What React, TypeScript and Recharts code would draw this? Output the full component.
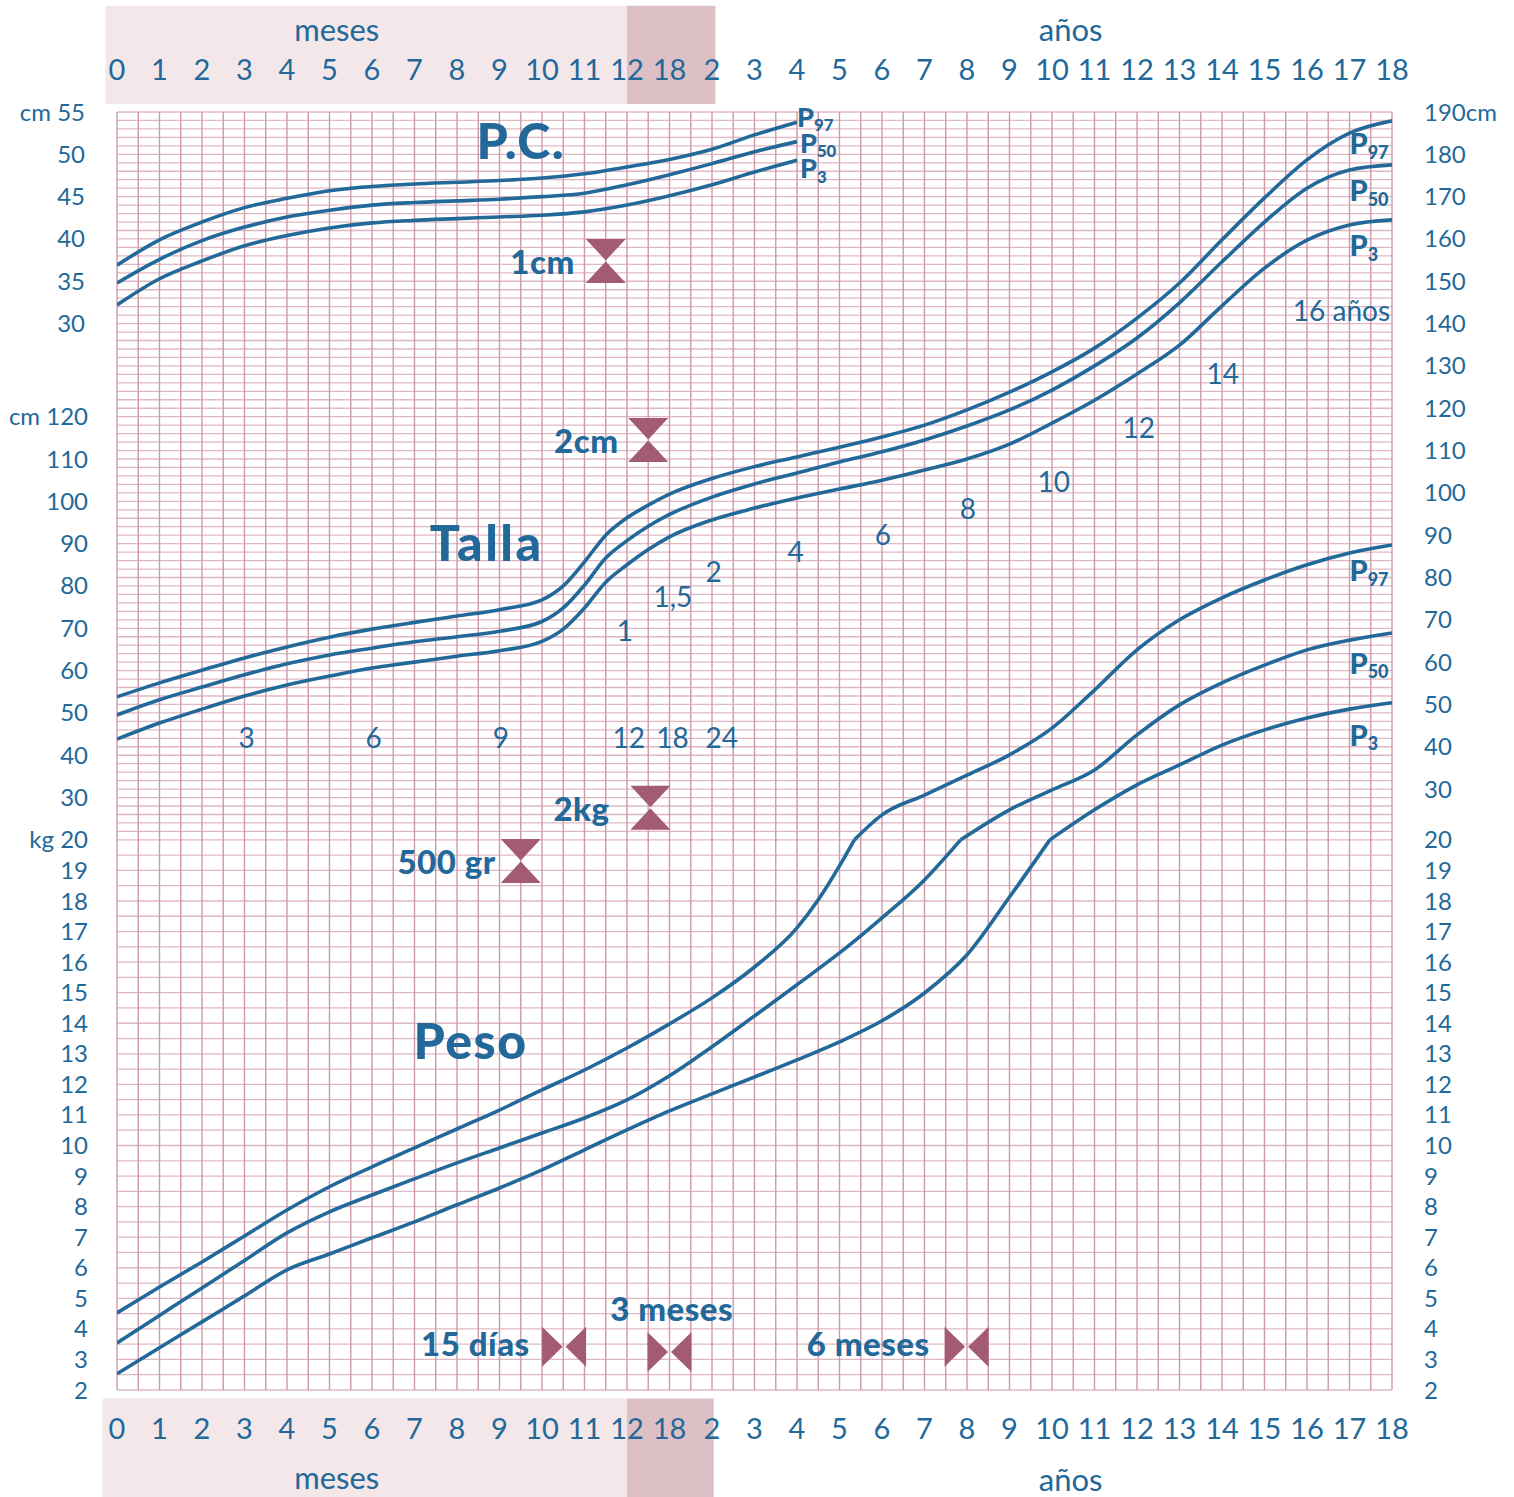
import React from "react";
import {
  LineChart,
  Line,
  XAxis,
  YAxis,
  ReferenceLine,
  ReferenceArea,
  ReferenceDot,
} from "recharts";

const ANCHO = 1514;
const ALTO = 1497;
const FILAS = 151; // alto de la rejilla en filas de 1 cm (P.C.)

const AZUL = "#22699a";
const ROSA_V = "#cf99a9";
const ROSA_H = "#e0b8c3";
const BANDA = "#f3e7ea";
const BANDA_OSCURA = "#ddc0c6";
const GRANATE = "#a35a74";
const FUENTE = "Lato, 'Open Sans', sans-serif";

// eje horizontal: 0-12 meses, 18 meses, después 2-18 años
const etiquetasEdad = [
  "0", "1", "2", "3", "4", "5", "6", "7", "8", "9", "10", "11", "12",
  "18", "2", "3", "4", "5", "6", "7", "8", "9", "10", "11", "12", "13",
  "14", "15", "16", "17", "18",
];
const posiciones = etiquetasEdad.map((_, i) => i);

const ticksPC = [30, 35, 40, 45, 50, 55];
const ticksTalla = [30, 40, 50, 60, 70, 80, 90, 100, 110, 120];
const ticksKg = [2, 3, 4, 5, 6, 7, 8, 9, 10, 11, 12, 13, 14, 15, 16, 17, 18, 19, 20];
const ticksDerecha = [30, 40, 50, 60, 70, 80, 90, 100, 110, 120, 130, 140, 150, 160, 170, 180, 190];

// perímetro cefálico (cm), posiciones 0..16
const pcP97 = [36.9, 39.9, 42.0, 43.7, 44.8, 45.7, 46.2, 46.5, 46.7, 46.9, 47.2, 47.7, 48.5, 49.4, 50.6, 52.3, 53.8];
const pcP50 = [34.8, 37.6, 39.8, 41.4, 42.6, 43.4, 44.0, 44.3, 44.5, 44.7, 45.0, 45.4, 46.4, 47.6, 48.9, 50.3, 51.5];
const pcP3 = [32.2, 35.3, 37.4, 39.2, 40.4, 41.3, 41.9, 42.2, 42.4, 42.6, 42.8, 43.2, 44.0, 45.1, 46.4, 47.9, 49.3];

type Par = [number, number];

// talla (cm)
const tallaP97: Par[] = [
  [0, 53.8], [1, 57.1], [2, 60.1], [3, 63.0], [4, 65.6], [5, 67.9], [6, 69.8], [7, 71.4],
  [8, 72.9], [9, 74.4], [10, 76.7], [10.5, 80.0], [11, 85.7], [11.5, 92.0], [12, 96.1],
  [12.5, 99.1], [13, 101.7], [14, 105.4], [15, 108.2], [16, 110.5], [17, 112.8], [18, 115.2],
  [19, 118.0], [20, 121.6], [21, 125.8], [22, 130.6], [23, 136.2], [24, 143.3], [25, 151.6],
  [26, 161.8], [27, 171.7], [28, 180.7], [29, 187.0], [30, 189.9],
];
const tallaP50: Par[] = [
  [0, 49.5], [1, 53.1], [2, 56.1], [3, 59.0], [4, 61.6], [5, 63.7], [6, 65.3], [7, 66.8],
  [8, 68.0], [9, 69.3], [10, 71.6], [10.5, 74.8], [11, 80.2], [11.5, 86.6], [12, 90.7],
  [12.5, 94.1], [13, 96.9], [14, 101.0], [15, 104.1], [16, 106.7], [17, 109.3], [18, 111.7],
  [19, 114.5], [20, 117.8], [21, 121.6], [22, 126.3], [23, 132.0], [24, 138.6], [25, 146.9],
  [26, 156.6], [27, 166.0], [28, 174.0], [29, 178.3], [30, 179.5],
];
const tallaP3: Par[] = [
  [0, 43.8], [1, 47.6], [2, 50.9], [3, 54.0], [4, 56.6], [5, 58.7], [6, 60.6], [7, 62.0],
  [8, 63.4], [9, 64.7], [10, 66.9], [10.5, 69.8], [11, 74.8], [11.5, 80.9], [12, 85.0],
  [12.5, 88.6], [13, 91.6], [14, 95.6], [15, 98.4], [16, 100.8], [17, 102.9], [18, 105.0],
  [19, 107.4], [20, 110.0], [21, 113.5], [22, 118.5], [23, 123.9], [24, 130.1], [25, 136.9],
  [26, 146.2], [27, 155.1], [28, 161.7], [29, 165.3], [30, 166.5],
];

// peso hasta 20 kg (escala kg)
const pesoP97: Par[] = [
  [0, 4.52], [1, 5.37], [2, 6.19], [3, 7.04], [4, 7.89], [5, 8.65], [6, 9.3], [7, 9.92],
  [8, 10.54], [9, 11.16], [10, 11.82], [11, 12.47], [12, 13.19], [13, 13.98], [14, 14.83],
  [15, 15.84], [16, 17.12], [16.5, 18.04], [17, 19.15], [17.35, 20],
];
const pesoP50: Par[] = [
  [0, 3.54], [1, 4.44], [2, 5.34], [3, 6.24], [4, 7.14], [5, 7.83], [6, 8.38], [7, 8.91],
  [8, 9.43], [9, 9.92], [10, 10.41], [11, 10.9], [12, 11.49], [13, 12.28], [14, 13.23],
  [15, 14.24], [16, 15.26], [17, 16.3], [18, 17.45], [19, 18.69], [19.85, 20],
];
const pesoP3: Par[] = [
  [0, 2.53], [1, 3.38], [2, 4.23], [3, 5.08], [4, 5.93], [5, 6.45], [6, 6.98], [7, 7.5],
  [8, 8.06], [9, 8.61], [10, 9.2], [11, 9.86], [12, 10.51], [13, 11.13], [14, 11.69],
  [15, 12.24], [16, 12.8], [17, 13.39], [18, 14.08], [19, 14.99], [20, 16.24], [21, 18.13],
  [21.95, 20],
];
// peso desde 20 kg (escala de la derecha, 10 kg cada 5 filas)
const pesoAltoP97: Par[] = [
  [17.35, 20], [18, 25.9], [19, 30.6], [20, 35.3], [21, 40.1], [22, 46.4], [23, 55.4],
  [24, 64.9], [25, 72.0], [26, 77.2], [27, 81.4], [28, 85.0], [29, 87.8], [30, 89.7],
];
const pesoAltoP50: Par[] = [
  [19.85, 20], [21, 27.1], [22, 31.8], [23, 36.5], [24, 44.8], [25, 51.9], [26, 57.1],
  [27, 61.3], [28, 64.9], [29, 67.2], [30, 68.9],
];
const pesoAltoP3: Par[] = [
  [21.95, 20], [23, 27.1], [24, 33.0], [25, 37.7], [26, 42.4], [27, 46.0], [28, 48.8],
  [29, 50.9], [30, 52.4],
];

const deLista = (valores: number[]) => valores.map((v, x) => ({ x, v }));
const dePares = (pares: Par[]) => pares.map(([x, v]) => ({ x, v }));

// rejilla
const verticales = Array.from({ length: 61 }, (_, i) => i / 2);
const filasCm = Array.from({ length: 87 }, (_, i) => i);
const filasKg = Array.from({ length: 36 }, (_, i) => 2 + i / 2);

type Nota = {
  texto: string;
  x: number;
  y: number; // en filas
  tam: number;
  peso?: number;
  ancla?: "start" | "middle" | "end";
  sub?: string;
  esp?: number;
};

const notas: Nota[] = [
  { texto: "P.C.", x: 9.5, y: 3.3, tam: 50, peso: 900, esp: 1.5 },
  { texto: "Talla", x: 8.7, y: 50.8, tam: 50, peso: 900, esp: 2.5 },
  { texto: "Peso", x: 8.32, y: 109.6, tam: 50, peso: 900, esp: 1.5 },
  { texto: "1cm", x: 10.77, y: 17.6, tam: 33, peso: 900, ancla: "end", esp: 0.5 },
  { texto: "2cm", x: 11.8, y: 38.75, tam: 33, peso: 900, ancla: "end", esp: 0.5 },
  { texto: "2kg", x: 11.59, y: 82.2, tam: 33, peso: 900, ancla: "end", esp: 0.5 },
  { texto: "500 gr", x: 8.91, y: 88.5, tam: 33, peso: 900, ancla: "end", esp: 0.5 },
  { texto: "15 días", x: 9.71, y: 145.4, tam: 33, peso: 900, ancla: "end", esp: 0.5 },
  { texto: "3 meses", x: 13.05, y: 141.3, tam: 33, peso: 900, esp: 0.5 },
  { texto: "6 meses", x: 19.12, y: 145.4, tam: 33, peso: 900, ancla: "end", esp: 0.5 },
  { texto: "P", sub: "97", x: 16.0, y: 0.5, tam: 27, peso: 900, ancla: "start" },
  { texto: "P", sub: "50", x: 16.07, y: 3.55, tam: 27, peso: 900, ancla: "start" },
  { texto: "P", sub: "3", x: 16.07, y: 6.6, tam: 27, peso: 900, ancla: "start" },
  { texto: "P", sub: "97", x: 29.0, y: 3.66, tam: 29, peso: 900, ancla: "start" },
  { texto: "P", sub: "50", x: 29.0, y: 9.2, tam: 29, peso: 900, ancla: "start" },
  { texto: "P", sub: "3", x: 29.0, y: 15.7, tam: 29, peso: 900, ancla: "start" },
  { texto: "P", sub: "97", x: 29.0, y: 54.1, tam: 29, peso: 900, ancla: "start" },
  { texto: "P", sub: "50", x: 29.0, y: 65.0, tam: 29, peso: 900, ancla: "start" },
  { texto: "P", sub: "3", x: 29.0, y: 73.5, tam: 29, peso: 900, ancla: "start" },
  { texto: "1", x: 11.95, y: 61.2, tam: 28 },
  { texto: "1,5", x: 13.08, y: 57.2, tam: 28 },
  { texto: "2", x: 14.04, y: 54.2, tam: 28 },
  { texto: "4", x: 15.97, y: 51.9, tam: 28 },
  { texto: "6", x: 18.02, y: 49.9, tam: 28 },
  { texto: "8", x: 20.02, y: 46.8, tam: 28 },
  { texto: "10", x: 22.04, y: 43.6, tam: 28 },
  { texto: "12", x: 24.04, y: 37.2, tam: 28 },
  { texto: "14", x: 26.02, y: 30.8, tam: 28 },
  { texto: "16 años", x: 28.81, y: 23.4, tam: 28 },
  { texto: "3", x: 3.05, y: 73.8, tam: 28 },
  { texto: "6", x: 6.04, y: 73.8, tam: 28 },
  { texto: "9", x: 9.03, y: 73.8, tam: 28 },
  { texto: "12", x: 12.04, y: 73.8, tam: 28 },
  { texto: "18", x: 13.07, y: 73.8, tam: 28 },
  { texto: "24", x: 14.23, y: 73.8, tam: 28 },
  { texto: "meses", x: 5.17, y: -9.85, tam: 31 },
  { texto: "años", x: 22.44, y: -9.85, tam: 31 },
  { texto: "meses", x: 5.17, y: 161.3, tam: 31 },
  { texto: "años", x: 22.44, y: 161.5, tam: 31 },
];

// marcas de escala: reloj de arena (vertical) y pajarita (horizontal)
const relojes = [
  { x: 11.5, y: 17.6 },
  { x: 12.5, y: 38.75 },
  { x: 12.55, y: 82.2 },
  { x: 9.5, y: 88.5 },
];
const pajaritas = [
  { x: 10.52, y: 145.9 },
  { x: 13.0, y: 146.5 },
  { x: 19.99, y: 145.9 },
];

const dibujarNota = (n: Nota) => (p: any) => (
  <text
    x={p.cx}
    y={p.cy}
    textAnchor={n.ancla ?? "middle"}
    dominantBaseline="central"
    fill={AZUL}
    fontFamily={FUENTE}
    fontSize={n.tam}
    fontWeight={n.peso ?? 400}
    letterSpacing={n.esp ?? 0}
  >
    {n.texto}
    {n.sub ? (
      <tspan fontSize={n.tam * 0.62} dy={n.tam * 0.3}>
        {n.sub}
      </tspan>
    ) : null}
  </text>
);

const Reloj = (p: any) => {
  const { cx, cy } = p;
  const w = 20;
  const h = 22;
  return (
    <path
      d={`M${cx - w},${cy - h}L${cx + w},${cy - h}L${cx},${cy - 0.5}Z M${cx - w},${cy + h}L${cx + w},${cy + h}L${cx},${cy + 0.5}Z`}
      fill={GRANATE}
    />
  );
};

const Pajarita = (p: any) => {
  const { cx, cy } = p;
  const w = 22;
  const h = 20;
  return (
    <path
      d={`M${cx - w},${cy - h}L${cx - w},${cy + h}L${cx - 1.5},${cy}Z M${cx + w},${cy - h}L${cx + w},${cy + h}L${cx + 1.5},${cy}Z`}
      fill={GRANATE}
    />
  );
};

const estiloTick = { fill: AZUL, fontSize: 24, fontFamily: FUENTE };
const estiloTickX = { fill: AZUL, fontSize: 29, fontFamily: FUENTE };

const curva = (key: string, data: { x: number; v: number }[], eje: string) => (
  <Line
    key={key}
    data={data}
    dataKey="v"
    xAxisId="abajo"
    yAxisId={eje}
    type="monotone"
    dot={false}
    activeDot={false}
    stroke={AZUL}
    strokeWidth={3.6}
    isAnimationActive={false}
  />
);

export default function App() {
  return (
    <div style={{ position: "absolute", left: 0, top: 0, background: "#fff" }}>
      <LineChart
        width={ANCHO}
        height={ALTO}
        margin={{ top: 111, right: 120, bottom: 106, left: 114 }}
      >
        <XAxis
          xAxisId="abajo"
          dataKey="x"
          type="number"
          domain={[0, 30]}
          ticks={posiciones}
          interval={0}
          allowDataOverflow
          tickFormatter={(v) => etiquetasEdad[v]}
          height={1}
          tickSize={0}
          tickMargin={28}
          axisLine={false}
          tick={estiloTickX}
        />
        <XAxis
          xAxisId="arriba"
          orientation="top"
          dataKey="x"
          type="number"
          domain={[0, 30]}
          ticks={posiciones}
          interval={0}
          allowDataOverflow
          tickFormatter={(v) => etiquetasEdad[v]}
          height={1}
          tickSize={0}
          tickMargin={32}
          axisLine={false}
          tick={estiloTickX}
        />
        <YAxis
          yAxisId="pc"
          type="number"
          domain={[55 - FILAS, 55]}
          ticks={ticksPC}
          interval={0}
          allowDataOverflow
          width={1}
          tickSize={0}
          tickMargin={30}
          axisLine={false}
          tick={estiloTick}
          tickFormatter={(v) => (v === 55 ? "cm\u00a055" : String(v))}
        />
        <YAxis
          yAxisId="cm"
          type="number"
          domain={[192 - 2 * FILAS, 192]}
          ticks={ticksTalla}
          interval={0}
          allowDataOverflow
          width={1}
          tickSize={0}
          tickMargin={29}
          axisLine={false}
          tick={estiloTick}
          tickFormatter={(v) => (v === 120 ? "cm\u00a0120" : String(v))}
        />
        <YAxis
          yAxisId="kg"
          type="number"
          domain={[2, 20 + (86 * 18) / 65]}
          ticks={ticksKg}
          interval={0}
          allowDataOverflow
          width={1}
          tickSize={0}
          tickMargin={28}
          axisLine={false}
          tick={estiloTick}
          tickFormatter={(v) => (v === 20 ? "kg\u00a020" : String(v))}
        />
        <YAxis
          yAxisId="derecha"
          orientation="right"
          type="number"
          domain={[190 - 2 * FILAS, 190]}
          ticks={ticksDerecha}
          interval={0}
          allowDataOverflow
          width={1}
          tickSize={0}
          tickMargin={32}
          axisLine={false}
          tick={estiloTick}
          tickFormatter={(v) => (v === 190 ? "190cm" : String(v))}
        />
        <YAxis
          yAxisId="kgDerecha"
          orientation="right"
          type="number"
          domain={[2, 20 + (86 * 18) / 65]}
          ticks={ticksKg}
          interval={0}
          allowDataOverflow
          width={1}
          tickSize={0}
          tickMargin={31}
          axisLine={false}
          tick={estiloTick}
        />
        <YAxis yAxisId="filas" type="number" hide width={0} reversed domain={[0, FILAS]} allowDataOverflow />

        <ReferenceArea xAxisId="abajo" yAxisId="filas" x1={-0.27} x2={12} y1={-12.56} y2={-0.95} fill={BANDA} fillOpacity={1} ifOverflow="visible" />
        <ReferenceArea xAxisId="abajo" yAxisId="filas" x1={12} x2={14.08} y1={-12.56} y2={-0.95} fill={BANDA_OSCURA} fillOpacity={1} ifOverflow="visible" />
        <ReferenceArea xAxisId="abajo" yAxisId="filas" x1={-0.34} x2={12} y1={152.0} y2={165} fill={BANDA} fillOpacity={1} ifOverflow="visible" />
        <ReferenceArea xAxisId="abajo" yAxisId="filas" x1={12} x2={14.04} y1={152.0} y2={165} fill={BANDA_OSCURA} fillOpacity={1} ifOverflow="visible" />

        {filasCm.map((f) => (
          <ReferenceLine key={`h${f}`} xAxisId="abajo" yAxisId="filas" y={f} stroke={ROSA_H} strokeWidth={1.3} />
        ))}
        {filasKg.map((k) => (
          <ReferenceLine key={`k${k}`} xAxisId="abajo" yAxisId="kg" y={k} stroke={ROSA_H} strokeWidth={1.3} />
        ))}
        {verticales.map((v) => (
          <ReferenceLine key={`v${v}`} xAxisId="abajo" yAxisId="filas" x={v} stroke={ROSA_V} strokeWidth={1.4} />
        ))}

        {relojes.map((r, i) => (
          <ReferenceDot key={`r${i}`} xAxisId="abajo" yAxisId="filas" x={r.x} y={r.y} shape={Reloj} />
        ))}
        {pajaritas.map((r, i) => (
          <ReferenceDot key={`p${i}`} xAxisId="abajo" yAxisId="filas" x={r.x} y={r.y} shape={Pajarita} />
        ))}

        {curva("pc97", deLista(pcP97), "pc")}
        {curva("pc50", deLista(pcP50), "pc")}
        {curva("pc3", deLista(pcP3), "pc")}
        {curva("t97", dePares(tallaP97), "cm")}
        {curva("t50", dePares(tallaP50), "cm")}
        {curva("t3", dePares(tallaP3), "cm")}
        {curva("p97", dePares(pesoP97), "kg")}
        {curva("p50", dePares(pesoP50), "kg")}
        {curva("p3", dePares(pesoP3), "kg")}
        {curva("pa97", dePares(pesoAltoP97), "cm")}
        {curva("pa50", dePares(pesoAltoP50), "cm")}
        {curva("pa3", dePares(pesoAltoP3), "cm")}

        {notas.map((n, i) => (
          <ReferenceDot
            key={`n${i}`}
            xAxisId="abajo"
            yAxisId="filas"
            x={n.x}
            y={n.y}
            ifOverflow="visible"
            shape={dibujarNota(n)}
          />
        ))}
      </LineChart>
    </div>
  );
}
